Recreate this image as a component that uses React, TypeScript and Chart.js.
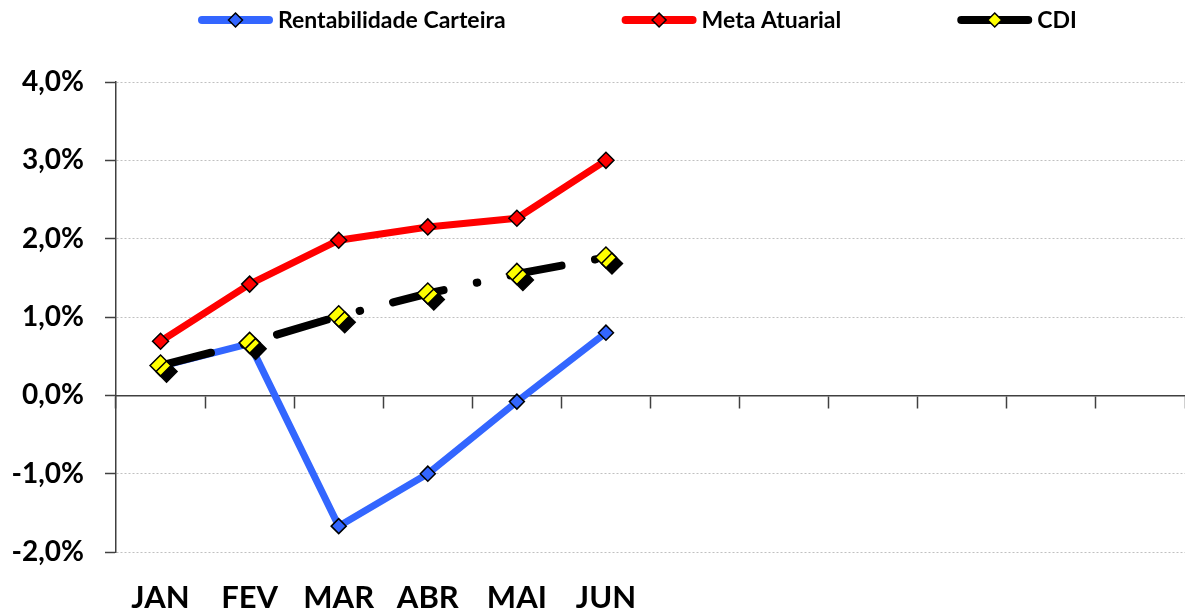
import React, { useEffect, useRef } from 'react';
import { Chart, registerables } from 'chart.js';

Chart.register(...registerables);

// ---- data ----
const MONTHS = ['JAN', 'FEV', 'MAR', 'ABR', 'MAI', 'JUN', '', '', '', '', '', ''];
const RENTABILIDADE = [0.37, 0.66, -1.67, -1.0, -0.08, 0.8];
const META_ATUARIAL = [0.69, 1.42, 1.98, 2.15, 2.26, 3.0];
const CDI = [0.38, 0.67, 1.01, 1.3, 1.55, 1.76];
const SERIES_NAMES = ['Rentabilidade Carteira', 'Meta Atuarial', 'CDI'];
const Y_MIN = -2;
const Y_MAX = 4;
const Y_STEP = 1;

// ---- styles ----
const BLUE = '#3366FF';
const RED = '#FF0000';
const BLACK = '#000000';
const YELLOW = '#FFFF00';
const AXIS = '#404040';
const FONT = 'Lato, Carlito, Calibri, "Open Sans", sans-serif';

const LEGEND_ITEMS = [
  { name: SERIES_NAMES[0], line: BLUE, marker: BLUE },
  { name: SERIES_NAMES[1], line: RED, marker: RED },
  { name: SERIES_NAMES[2], line: BLACK, marker: YELLOW },
];

const fmtPct = (v: number) => v.toFixed(1).replace('.', ',') + '%';

const shadowPlugin = {
  id: 'markerShadow',
  beforeDatasetDraw(chart: any, args: any) {
    const ds = chart.data.datasets[args.index];
    const ctx = chart.ctx;
    ctx.save();
    if (ds.markerShadow) {
      ctx.shadowColor = 'rgba(0,0,0,1)';
      ctx.shadowOffsetX = 6;
      ctx.shadowOffsetY = 6;
      ctx.shadowBlur = 0;
    }
  },
  afterDatasetDraw(chart: any) {
    chart.ctx.restore();
  },
};

const legendPlugin = {
  id: 'customLegend',
  afterDraw(chart: any) {
    const ctx = chart.ctx;
    const cy = 20;
    const sampleW = 75;
    const textGap = 5;
    const itemGap = 116;
    let x = 198;
    ctx.save();
    ctx.font = `bold 23px ${FONT}`;
    ctx.textBaseline = 'middle';
    ctx.textAlign = 'left';
    LEGEND_ITEMS.forEach((it) => {
      ctx.beginPath();
      ctx.lineCap = 'round';
      ctx.lineWidth = 8;
      ctx.strokeStyle = it.line;
      ctx.moveTo(x + 4, cy);
      ctx.lineTo(x + sampleW - 4, cy);
      ctx.stroke();
      const mx = x + sampleW / 2;
      const r = 7;
      ctx.beginPath();
      ctx.moveTo(mx, cy - r);
      ctx.lineTo(mx + r, cy);
      ctx.lineTo(mx, cy + r);
      ctx.lineTo(mx - r, cy);
      ctx.closePath();
      ctx.fillStyle = it.marker;
      ctx.fill();
      ctx.lineWidth = 1.5;
      ctx.strokeStyle = BLACK;
      ctx.stroke();
      ctx.fillStyle = BLACK;
      const tx = x + sampleW + textGap;
      ctx.fillText(it.name, tx, cy + 1);
      x = tx + ctx.measureText(it.name).width + itemGap;
    });
    ctx.restore();
  },
};

const noSidePadding = (scale: any) => {
  scale.paddingLeft = 0;
  scale.paddingRight = 0;
};

export default function App() {
  const ref = useRef<HTMLCanvasElement | null>(null);

  useEffect(() => {
    if (!ref.current) return;
    Chart.defaults.font.family = FONT;
    const chart = new Chart(ref.current, {
      type: 'line',
      data: {
        labels: MONTHS,
        datasets: [
          {
            label: SERIES_NAMES[2] + ' markers',
            data: CDI,
            showLine: false,
            pointStyle: 'rectRot',
            pointRadius: 10.5,
            pointBackgroundColor: YELLOW,
            pointBorderColor: BLACK,
            pointBorderWidth: 1.5,
            markerShadow: true,
          } as any,
          {
            label: SERIES_NAMES[2],
            data: CDI,
            borderColor: BLACK,
            borderWidth: 8,
            borderDash: [52, 34, 0.5, 34],
            borderCapStyle: 'round',
            borderJoinStyle: 'round',
            pointRadius: 0,
            tension: 0,
          },
          {
            label: SERIES_NAMES[0],
            data: RENTABILIDADE,
            borderColor: BLUE,
            borderWidth: 7,
            borderCapStyle: 'round',
            borderJoinStyle: 'round',
            pointStyle: 'rectRot',
            pointRadius: 7.5,
            pointBackgroundColor: BLUE,
            pointBorderColor: BLACK,
            pointBorderWidth: 1.5,
            tension: 0,
          },
          {
            label: SERIES_NAMES[1],
            data: META_ATUARIAL,
            borderColor: RED,
            borderWidth: 7,
            borderCapStyle: 'round',
            borderJoinStyle: 'round',
            pointStyle: 'rectRot',
            pointRadius: 8,
            pointBackgroundColor: RED,
            pointBorderColor: BLACK,
            pointBorderWidth: 1.5,
            tension: 0,
          },
        ],
      },
      options: {
        animation: false,
        responsive: false,
        layout: { autoPadding: false, padding: { top: 82, right: -2, bottom: 0, left: 0 } },
        plugins: {
          legend: { display: false },
          tooltip: { enabled: false },
        },
        scales: {
          y: {
            min: Y_MIN,
            max: Y_MAX,
            afterFit(scale: any) {
              scale.width = 116;
            },
            ticks: {
              stepSize: Y_STEP,
              padding: 21,
              color: BLACK,
              font: { size: 28, weight: 'bold' },
              callback: (v: any) => fmtPct(Number(v)),
            },
            grid: {
              color: '#c0c0c0',
              lineWidth: 1,
              tickColor: AXIS,
              tickLength: 11,
              tickWidth: 1.5,
            },
            border: { display: true, color: AXIS, width: 1.5, dash: [2, 2] },
          },
          x: {
            type: 'category',
            position: { y: 0 } as any,
            offset: true,
            afterFit: noSidePadding,
            ticks: { display: false },
            grid: {
              display: true,
              drawOnChartArea: false,
              drawTicks: true,
              offset: true,
              tickLength: 12,
              tickColor: AXIS,
              tickWidth: 1.5,
              color: AXIS,
            },
            border: { display: true, color: AXIS, width: 1.5 },
          },
          x2: {
            type: 'category',
            position: 'bottom',
            offset: true,
            afterFit(scale: any) {
              scale.height = 58;
              noSidePadding(scale);
            },
            ticks: {
              padding: 27,
              color: BLACK,
              autoSkip: false,
              maxRotation: 0,
              font: { size: 31, weight: 'bold' },
            },
            grid: { display: false, drawTicks: false },
            border: { display: false },
          },
        },
      } as any,
      plugins: [shadowPlugin, legendPlugin],
    });
    return () => chart.destroy();
  }, []);

  return (
    <div style={{ position: 'absolute', left: 0, top: 0, width: 1185, height: 610, background: '#fff' }}>
      <canvas ref={ref} width={1185} height={610} />
    </div>
  );
}
